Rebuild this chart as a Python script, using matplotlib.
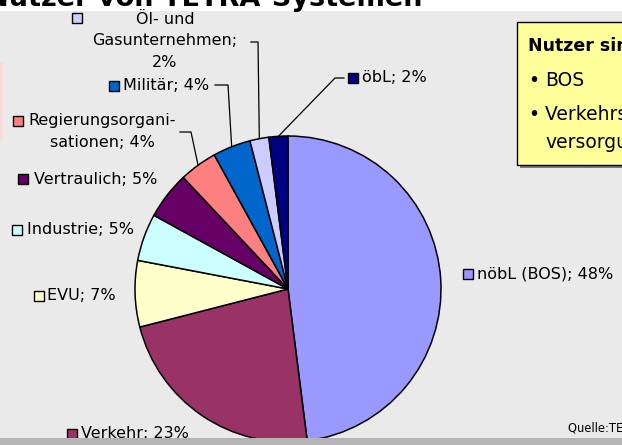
import matplotlib
matplotlib.use("Agg")
import matplotlib.pyplot as plt
from matplotlib.patches import Rectangle
import numpy as np

# ---------------- data ----------------
categories = ["nöbL (BOS)", "Verkehr", "EVU", "Industrie", "Vertraulich",
              "Regierungsorganisationen", "Militär", "Öl- und Gasunternehmen", "öbL"]
values = [48, 23, 7, 5, 5, 4, 4, 2, 2]
colors = ["#9999FF", "#993366", "#FFFFCC", "#CCFFFF", "#660066",
          "#FF8080", "#0066CC", "#CCCCFF", "#000080"]
title = "Nutzer von TETRA-Systemen"
box_lines = ["Nutzer sind:", "BOS", "Verkehrs- und Energie-", "versorgungsunternehmen"]
source = "Quelle:TETRA MoU"

# ---------------- layout (pixels, y down) ----------------
W, H = 622, 445
PIE_C = (288, 289)
PIE_R = 153
FS = 11.5
FONT = ["DejaVu Sans"]

label_layout = {
    "nöbL (BOS)": dict(mx=468, my=274, tx=477, ha="left"),
    "Verkehr": dict(mx=72, my=434, tx=81, ha="left"),
    "EVU": dict(mx=39, my=296, tx=47, ha="left"),
    "Industrie": dict(mx=17, my=230, tx=27, ha="left"),
    "Vertraulich": dict(mx=23, my=179, tx=34, ha="left"),
    "Regierungsorganisationen": dict(mx=18, my=121, tx=102, ha="center",
                                     text="Regierungsorgani-\nsationen; {v}%"),
    "Militär": dict(mx=114, my=86, tx=123, ha="left"),
    "Öl- und Gasunternehmen": dict(mx=77, my=18, tx=165, ha="center",
                                   text="Öl- und\nGasunternehmen;\n{v}%", y0=19),
    "öbL": dict(mx=353, my=78, tx=362, ha="left"),
}
line_step = 21.8
leaders = {
    "Öl- und Gasunternehmen": [(251, 42), (258, 42)],
    "Militär": [(215, 85), (228, 85)],
    "Regierungsorganisationen": [(180, 132), (191, 132)],
    "öbL": [(344, 78), (335, 78)],
}

fig = plt.figure(figsize=(W / 100, H / 100), dpi=100)
fig.patch.set_facecolor("#EAEAEA")
ax = fig.add_axes([0, 0, 1, 1])
ax.set_facecolor("#EAEAEA")

def Y(y):
    return H - y

# white title band, bottom grey bar, faint pink edge
ax.add_patch(Rectangle((0, Y(11)), W, 11, facecolor="white", edgecolor="none", zorder=0))
ax.add_patch(Rectangle((0, 0), W, H - 438, facecolor="#B4B4B4", edgecolor="none", zorder=5))
ax.add_patch(Rectangle((0, Y(140)), 3, 78, facecolor="#F8DADA", edgecolor="none", zorder=0))

ax.text(423, Y(6), title, fontsize=19.5, fontweight="bold", family=FONT,
        ha="right", va="baseline", color="black", zorder=1)

wedges, _ = ax.pie(values, colors=colors, startangle=90, counterclock=False,
                   center=(PIE_C[0], Y(PIE_C[1])), radius=PIE_R,
                   wedgeprops=dict(edgecolor="black", linewidth=1.1), frame=True)

for cat, val, col, w in zip(categories, values, colors, wedges):
    lay = label_layout[cat]
    txt = lay.get("text", "{c}; {v}%").format(c=cat, v=val)
    lines = txt.split("\n")
    y0 = lay.get("y0", lay["my"])
    for i, ln in enumerate(lines):
        ax.text(lay["tx"], Y(y0 + i * line_step), ln, fontsize=FS, family=FONT,
                ha=lay["ha"], va="center", color="black", zorder=4)
    s = 9.5
    ax.add_patch(Rectangle((lay["mx"] - s / 2, Y(lay["my"]) - s / 2), s, s,
                           facecolor=col, edgecolor="black", linewidth=1.0, zorder=4))
    if cat in leaders:
        ang = np.deg2rad((w.theta1 + w.theta2) / 2)
        ex = PIE_C[0] + PIE_R * np.cos(ang)
        ey = Y(PIE_C[1]) + PIE_R * np.sin(ang)
        pts = leaders[cat]
        xs = [p[0] for p in pts] + [ex]
        ys = [Y(p[1]) for p in pts] + [ey]
        ax.plot(xs, ys, color="black", linewidth=0.9, zorder=3)

# yellow info box with shadow
bx, by, bw, bh = 517, 22, 200, 143
ax.add_patch(Rectangle((bx + 3, Y(by + bh + 3)), bw, bh, facecolor="#7A7A7A",
                       edgecolor="none", zorder=6))
ax.add_patch(Rectangle((bx, Y(by + bh)), bw, bh, facecolor="#FFFF99",
                       edgecolor="black", linewidth=1.0, zorder=7))
ax.text(528, Y(46), box_lines[0], fontsize=12.5, fontweight="bold", family=FONT,
        ha="left", va="center", zorder=8)
ax.text(528, Y(80), "•", fontsize=13.5, family=FONT, ha="left", va="center", zorder=8)
ax.text(545, Y(80), box_lines[1], fontsize=13.5, family=FONT, ha="left", va="center", zorder=8)
ax.text(528, Y(114), "•", fontsize=13.5, family=FONT, ha="left", va="center", zorder=8)
ax.text(545, Y(114), box_lines[2], fontsize=13.5, family=FONT, ha="left", va="center", zorder=8)
ax.text(545, Y(142), box_lines[3], fontsize=13.5, family=FONT, ha="left", va="center", zorder=8)

ax.text(568, Y(428), source, fontsize=8.3, family=FONT, ha="left", va="center", zorder=4)

ax.set_xlim(0, W)
ax.set_ylim(0, H)
ax.set_aspect("auto")
ax.axis("off")

fig.savefig("out.png", dpi=100, facecolor=fig.get_facecolor())
